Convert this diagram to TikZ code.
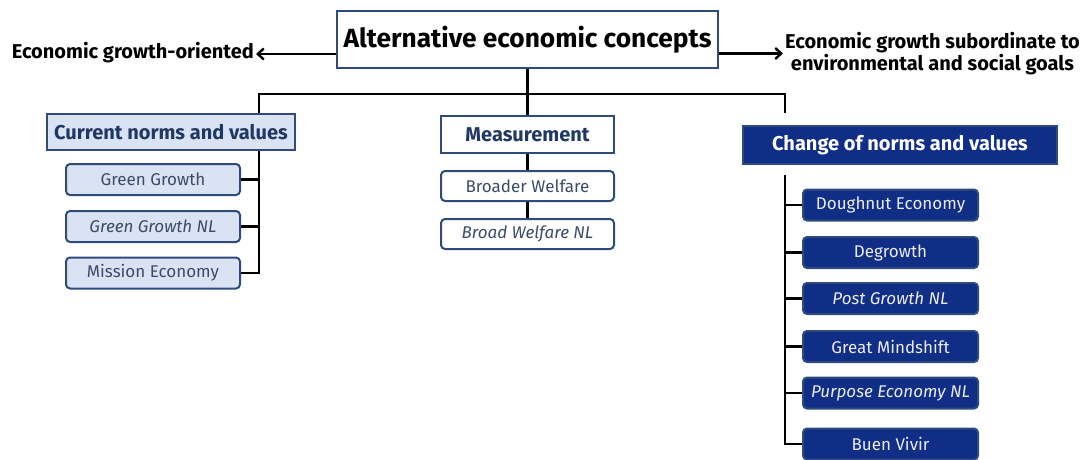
\documentclass[tikz,border=0pt]{standalone}
\usepackage{fontspec}
\setmainfont{Fira Sans}
\usetikzlibrary{calc,arrows.meta}
\definecolor{bordercol}{RGB}{47,75,124}
\definecolor{lightfill}{RGB}{218,227,243}
\definecolor{darkfill}{RGB}{16,46,134}
\definecolor{headtext}{RGB}{31,56,100}
\definecolor{boxtext}{RGB}{60,75,105}
\definecolor{paletext}{RGB}{235,237,245}
\begin{document}
\begin{tikzpicture}[x=1pt,y=-1pt,
  conn/.style={line width=2.4pt, black, line join=miter},
  frame/.style={draw=bordercol, line width=2pt, inner sep=0pt},
  topbox/.style={frame, fill=white, minimum width=381pt, minimum height=57pt,
    font=\bfseries\fontsize{26.3}{30}\selectfont, text=black},
  sidelabel/.style={inner sep=2pt, font=\bfseries\fontsize{20}{21.5}\selectfont, text=black},
  headbox/.style={frame, minimum height=36pt, font=\bfseries\fontsize{20}{22}\selectfont},
  itembox/.style={frame, rounded corners=4pt, minimum height=31pt,
    font=\fontsize{17}{20}\selectfont},
  lightitem/.style={itembox, fill=lightfill, text=boxtext, minimum width=174pt},
  whiteitem/.style={itembox, fill=white, text=boxtext, minimum width=173pt, minimum height=30pt},
  darkitem/.style={itembox, fill=darkfill, text=paletext, minimum width=175pt}
]
\useasboundingbox (0,0) rectangle (1089,459);

% title and orientation labels
\node[topbox] (top) at (527.5,39.5) {Alternative economic concepts};
\node[sidelabel, anchor=east] (growth) at (256,53) {Economic growth-oriented};
\node[sidelabel, anchor=west, align=center] (subord) at (783,53.5)
  {Economic growth subordinate to\\environmental and social goals};

\coordinate (lA) at ($(top.west)+(0,14.5)$);
\coordinate (rA) at ($(top.east)+(0,14)$);
\draw[conn, -{Straight Barb[length=6pt,width=11pt,line width=2.4pt]}] (lA) -- (lA -| growth.east);
\draw[conn, -{Straight Barb[length=6pt,width=11pt,line width=2.4pt]}] (rA) -- (rA -| subord.west);

% three branches
\node[headbox, fill=lightfill, text=headtext, minimum width=248pt] (cur) at (171,132) {Current norms and values};
\node[headbox, fill=white, text=headtext, minimum width=173pt, minimum height=37pt] (meas) at (527.5,134.5) {Measurement};
\node[headbox, fill=darkfill, text=white, minimum width=314pt, minimum height=38pt] (chg) at (900,145) {Change of norms and values};

\coordinate (lbar) at (259,94);
\coordinate (rbar) at (785,94);
\coordinate (rtop) at (785,113);
\draw[conn] (cur.north -| lbar) -- (lbar) -- (rbar) -- (rtop);
\draw[conn] (top.south) -- (meas.north);

% current norms and values
\node[lightitem] (gg) at (153,179.5) {Green Growth};
\node[lightitem] (ggnl) at (153,226.5) {\itshape Green Growth NL};
\node[lightitem] (me) at (153,273) {Mission Economy};
\draw[conn] (cur.south -| lbar) -- (me.east -| lbar) -- (me.east);
\draw[conn] (gg.east) -- (gg.east -| lbar);
\draw[conn] (ggnl.east) -- (ggnl.east -| lbar);

% measurement
\node[whiteitem] (bw) at (527.5,186) {Broader Welfare};
\node[whiteitem] (bwnl) at (527.5,234) {\itshape Broad Welfare NL};
\draw[conn] (meas.south) -- (bw.north);
\draw[conn] (bw.south) -- (bwnl.north);

% change of norms and values
\node[darkitem] (dn) at (890.5,205) {Doughnut Economy};
\node[darkitem] (dg) at (890.5,252.5) {Degrowth};
\node[darkitem] (pg) at (890.5,298.5) {\itshape Post Growth NL};
\node[darkitem] (gm) at (890.5,346.5) {Great Mindshift};
\node[darkitem] (pe) at (890.5,393) {\itshape Purpose Economy NL};
\node[darkitem] (bv) at (890.5,444) {Buen Vivir};
\coordinate (rstart) at (785,175);
\draw[conn] (rstart) -- (bv.west -| rstart) -- (bv.west);
\foreach \n in {dn,dg,pg,gm,pe}
  \draw[conn] (\n.west -| rstart) -- (\n.west);
\end{tikzpicture}
\end{document}
